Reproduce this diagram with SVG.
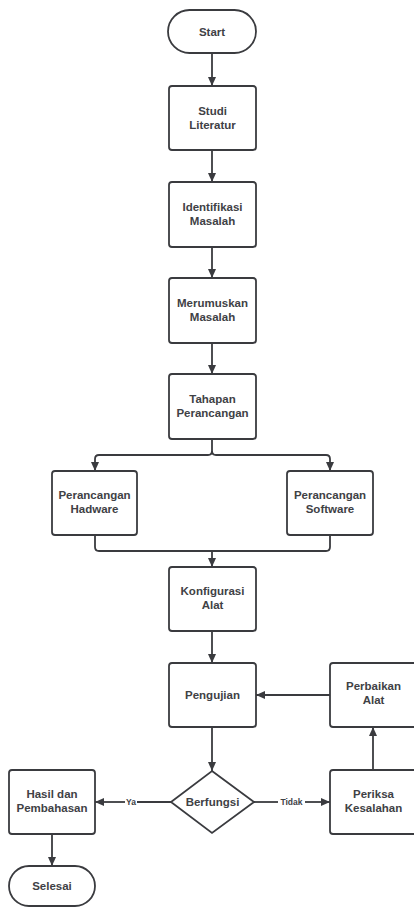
<svg xmlns="http://www.w3.org/2000/svg" width="414" height="908" viewBox="0 0 414 908">
<defs>
<marker id="ah" markerWidth="10" markerHeight="8" refX="9" refY="4" orient="auto" markerUnits="userSpaceOnUse">
<path d="M0,0 L9,4 L0,8 Z" fill="#3a3b3f"/>
</marker>
<style>
.box{fill:#fff;stroke:#3a3b3f;stroke-width:1.8}
.t{font-family:"Liberation Sans",Arial,sans-serif;font-weight:bold;font-size:11.5px;fill:#404145;text-anchor:middle}
.lbl{font-family:"Liberation Sans",Arial,sans-serif;font-weight:bold;font-size:8.5px;fill:#404145;text-anchor:middle}
.c{fill:none;stroke:#3a3b3f;stroke-width:1.8}
.ca{fill:none;stroke:#3a3b3f;stroke-width:1.8;marker-end:url(#ah)}
</style>
</defs>
<rect width="414" height="908" fill="#fff"/>
<g id="connectors">
<path class="ca" d="M212,53 V86"/>
<path class="ca" d="M212,150 V182"/>
<path class="ca" d="M212,247 V278"/>
<path class="ca" d="M212,343 V374"/>
<path class="ca" d="M212,439 V451 Q212,455 208,455 H99 Q95,455 95,459 V471"/>
<path class="ca" d="M212,451 Q212,455 216,455 H326 Q330,455 330,459 V471"/>
<path class="c" d="M95,535 V547 Q95,551 99,551 H326 Q330,551 330,547 V535"/>
<path class="ca" d="M212,551 V567"/>
<path class="ca" d="M212,631 V663"/>
<path class="ca" d="M212,727 V771"/>
<path class="c" d="M171,802 H137"/>
<path class="ca" d="M125,802 H95"/>
<text class="lbl" x="131" y="805">Ya</text>
<path class="c" d="M254,802 H278"/>
<path class="ca" d="M305,802 H330"/>
<text class="lbl" x="291.5" y="805">Tidak</text>
<path class="ca" d="M373,770 V727"/>
<path class="ca" d="M330,695 H256"/>
<path class="ca" d="M52,834 V866"/>
</g>
<g id="start">
<rect class="box" x="168" y="10" width="88" height="43" rx="21.5"/>
<text class="t" x="212" y="35.5">Start</text>
</g>
<g id="studi">
<rect class="box" x="169" y="86" width="87" height="64" rx="3"/>
<text class="t" x="212.5" y="115">Studi</text>
<text class="t" x="212.5" y="129">Literatur</text>
</g>
<g id="identifikasi">
<rect class="box" x="169" y="182" width="87" height="65" rx="3"/>
<text class="t" x="212.5" y="211">Identifikasi</text>
<text class="t" x="212.5" y="225">Masalah</text>
</g>
<g id="merumuskan">
<rect class="box" x="169" y="278" width="87" height="65" rx="3"/>
<text class="t" x="212.5" y="307">Merumuskan</text>
<text class="t" x="212.5" y="321">Masalah</text>
</g>
<g id="tahapan">
<rect class="box" x="169" y="374" width="87" height="65" rx="3"/>
<text class="t" x="212.5" y="403">Tahapan</text>
<text class="t" x="212.5" y="417">Perancangan</text>
</g>
<g id="hadware">
<rect class="box" x="52" y="471" width="85" height="64" rx="3"/>
<text class="t" x="94.5" y="499">Perancangan</text>
<text class="t" x="94.5" y="513">Hadware</text>
</g>
<g id="software">
<rect class="box" x="287" y="471" width="86" height="64" rx="3"/>
<text class="t" x="330" y="499">Perancangan</text>
<text class="t" x="330" y="513">Software</text>
</g>
<g id="konfigurasi">
<rect class="box" x="169" y="567" width="87" height="64" rx="3"/>
<text class="t" x="212.5" y="595">Konfigurasi</text>
<text class="t" x="212.5" y="609">Alat</text>
</g>
<g id="pengujian">
<rect class="box" x="169" y="663" width="87" height="64" rx="3"/>
<text class="t" x="212.5" y="699">Pengujian</text>
</g>
<g id="perbaikan">
<rect class="box" x="330" y="663" width="87" height="64" rx="3"/>
<text class="t" x="373.5" y="690">Perbaikan</text>
<text class="t" x="373.5" y="704">Alat</text>
</g>
<g id="berfungsi">
<polygon class="box" points="212,771 254,802 212,833 171,802"/>
<text class="t" x="212.5" y="806">Berfungsi</text>
</g>
<g id="periksa">
<rect class="box" x="330" y="770" width="87" height="64" rx="3"/>
<text class="t" x="373.5" y="798">Periksa</text>
<text class="t" x="373.5" y="812">Kesalahan</text>
</g>
<g id="hasil">
<rect class="box" x="9" y="770" width="86" height="64" rx="3"/>
<text class="t" x="52" y="798">Hasil dan</text>
<text class="t" x="52" y="812">Pembahasan</text>
</g>
<g id="selesai">
<rect class="box" x="9" y="866" width="86" height="40" rx="20"/>
<text class="t" x="52" y="890">Selesai</text>
</g>
</svg>
